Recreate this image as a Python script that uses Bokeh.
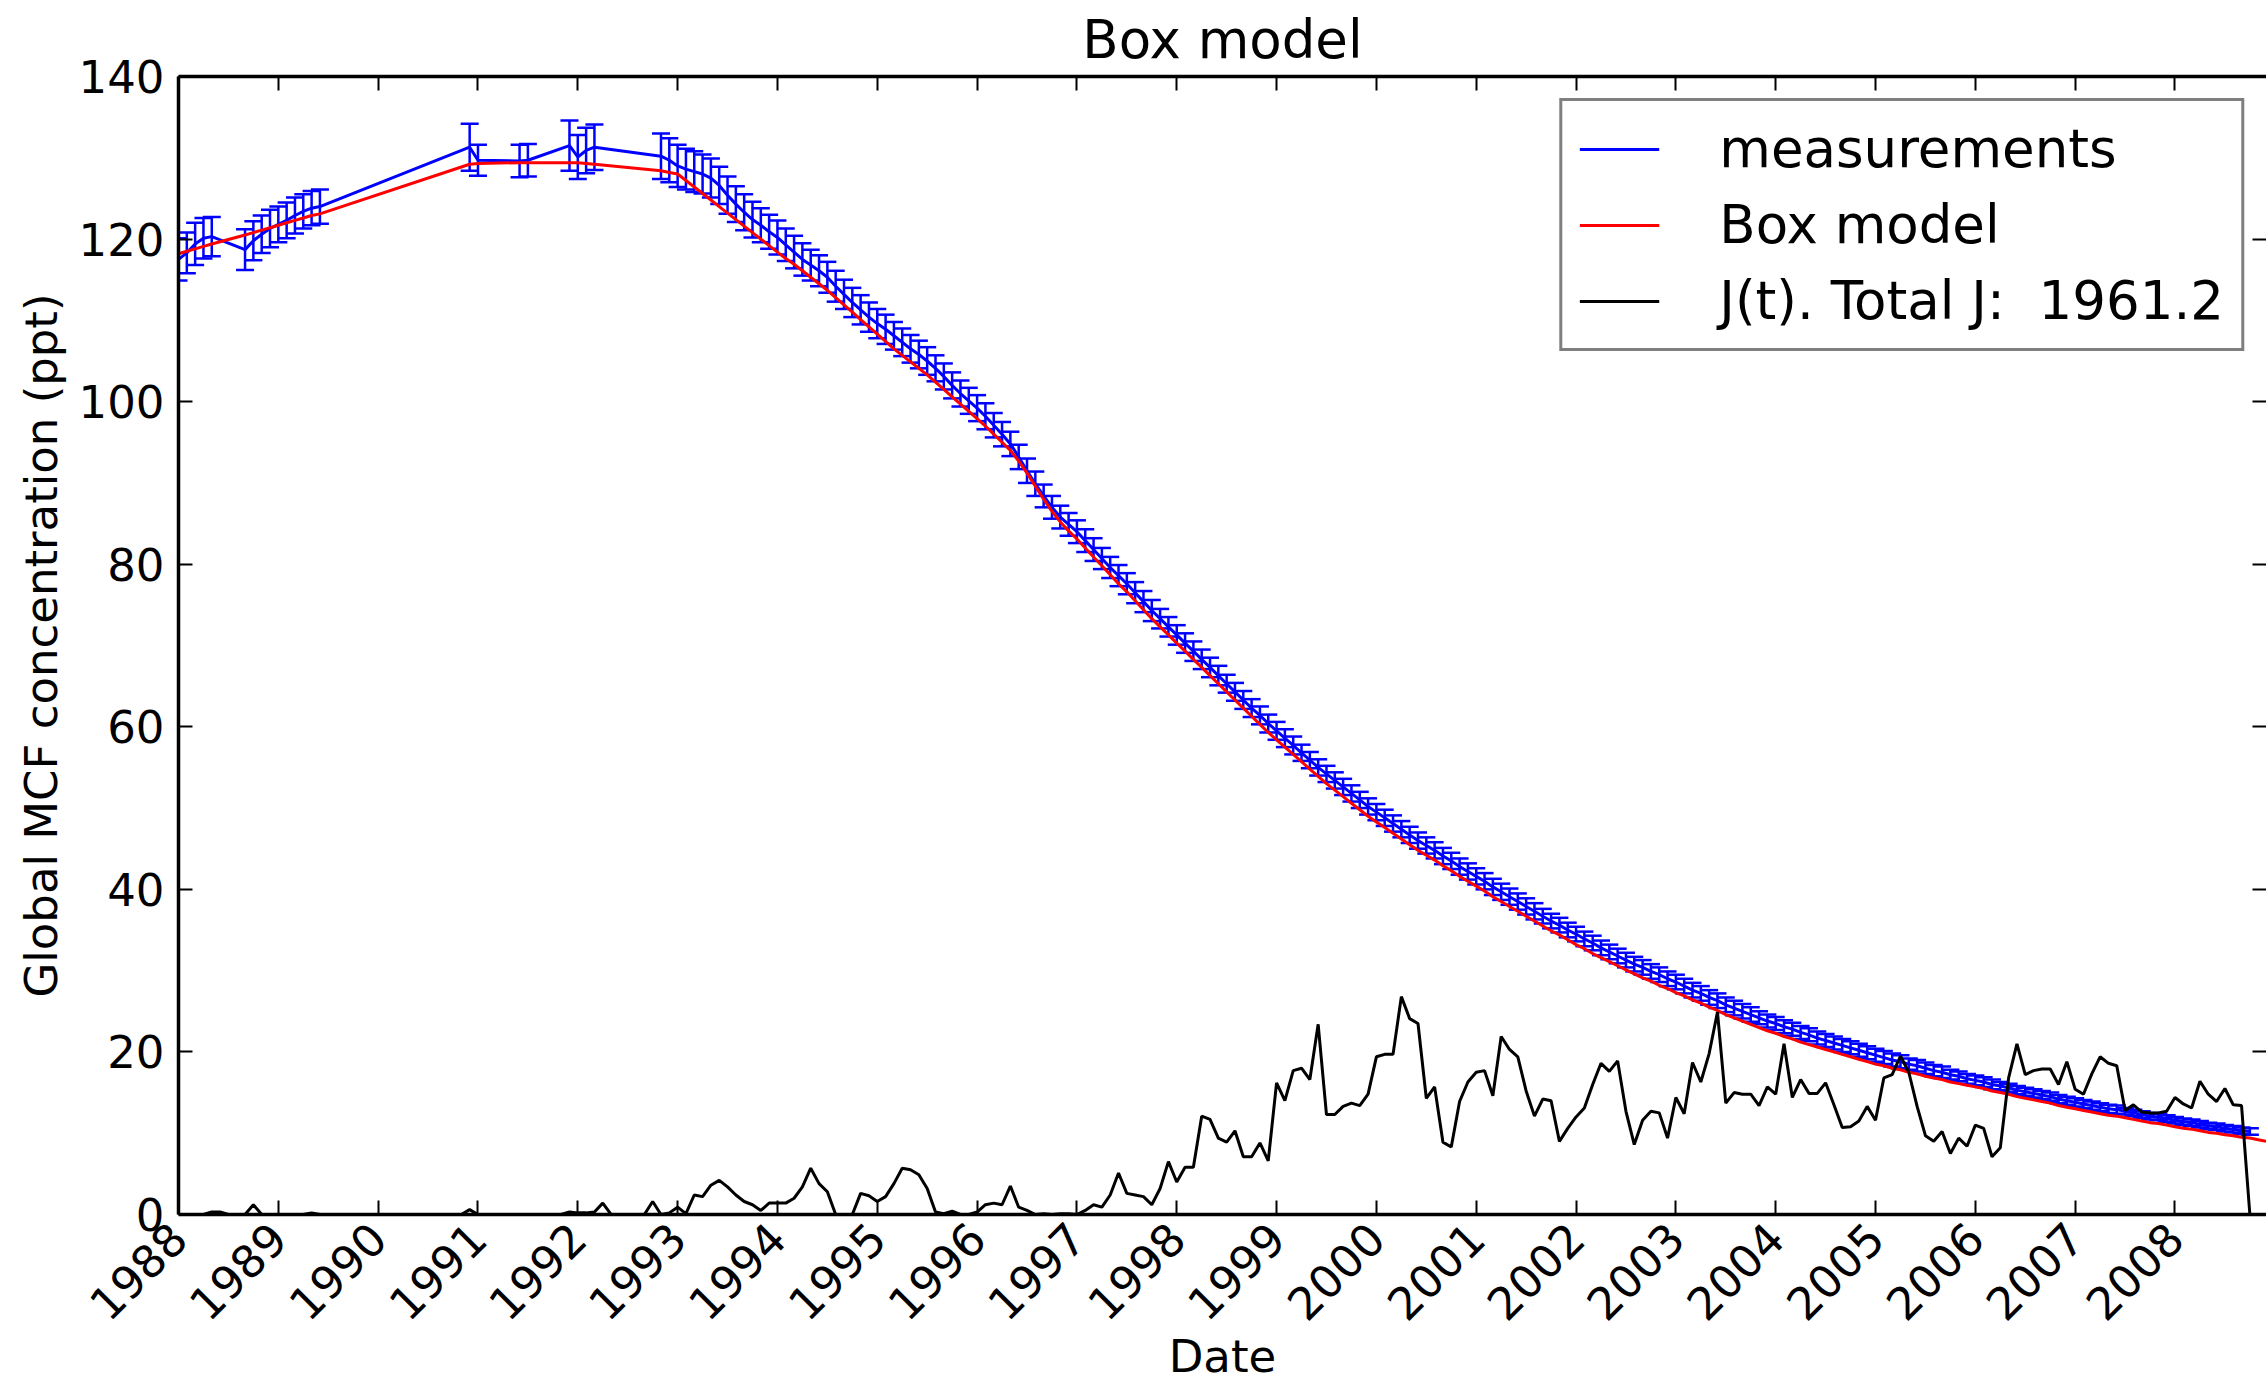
import math
from bokeh.plotting import figure
from bokeh.models import (Range1d, FixedTicker, LinearAxis, ColumnDataSource,
                          Legend, LegendItem)
from bokeh.embed import file_html
from bokeh.resources import INLINE

FONT = "DejaVu Sans"

# ---------------- data ----------------
# month index counted from January 1988
meas_months = [0, 1, 2, 3, 4, 8, 9, 10, 11, 12, 13, 14, 15, 16, 17, 35, 36, 41, 42,
               47, 48, 49, 50] + list(range(58, 250))

meas_values = [
    117.5, 118.3, 119.4, 120.1, 120.3, 118.7, 119.8, 120.6, 121.3, 121.8, 122.3, 122.9,
    123.4, 123.8, 124.0, 131.3, 129.7, 129.6, 129.7, 131.5, 130.1, 130.9, 131.3,
    # 58 ..
    130.2, 129.7, 129.0, 128.6, 128.3, 128.0, 127.5, 126.6, 125.4, 124.3, 123.3, 122.4,
    121.7, 120.9,
    120.2, 119.3, 118.4, 117.5, 116.8, 116.1, 115.3, 114.2, 113.2, 112.2, 111.3, 110.4,
    109.6, 108.9, 108.1, 107.3, 106.5, 105.8, 105.0, 104.1, 103.1, 102.0, 101.0, 100.1,
    99.2, 98.2, 97.1, 96.0, 94.8, 93.2, 91.5, 89.9, 88.4, 87.0, 85.8, 84.9,
    84.0, 82.9, 81.8, 80.7, 79.6, 78.6, 77.6, 76.5, 75.4, 74.3, 73.3, 72.3,
    71.3, 70.3, 69.3, 68.3, 67.3, 66.3, 65.3, 64.3, 63.3, 62.3, 61.4, 60.4,
    59.5, 58.6, 57.7, 56.8, 55.9, 55.0, 54.2, 53.4, 52.6, 51.8, 51.0, 50.2,
    49.5, 48.8, 48.1, 47.4, 46.7, 46.0, 45.4, 44.8, 44.1, 43.5, 42.8, 42.2,
    41.6, 41.0, 40.3, 39.7, 39.1, 38.5, 37.9, 37.3, 36.7, 36.1, 35.6, 35.0,
    34.5, 33.9, 33.4, 32.8, 32.3, 31.8, 31.3, 30.8, 30.4, 29.9, 29.5, 29.0,
    28.6, 28.1, 27.6, 27.2, 26.7, 26.3, 25.8, 25.4, 25.0, 24.6, 24.2, 23.8,
    23.5, 23.1, 22.8, 22.4, 22.1, 21.7, 21.4, 21.1, 20.8, 20.5, 20.2, 19.9,
    19.6, 19.3, 19.0, 18.8, 18.5, 18.3, 18.0, 17.7, 17.5, 17.2, 17.0, 16.7,
    16.5, 16.3, 16.0, 15.8, 15.6, 15.3, 15.1, 14.9, 14.7, 14.5, 14.2, 14.0,
    13.8, 13.6, 13.4, 13.2, 13.0, 12.9, 12.7, 12.5, 12.3, 12.1, 12.0, 11.8,
    11.6, 11.4, 11.3, 11.1, 10.9, 10.8, 10.6, 10.5, 10.3, 10.2,
]

meas_errors = [
    2.6, 2.5, 2.6, 2.5, 2.4, 2.5, 2.4, 2.3, 2.3, 2.2, 2.2, 2.2,
    2.1, 2.1, 2.1, 2.9, 1.9, 2.0, 2.0, 3.1, 2.7, 2.8, 2.8,
    2.8, 2.7, 2.6, 2.5, 2.5, 2.4, 2.4, 2.3, 2.3, 2.2, 2.2, 2.2, 2.1, 2.1,
    2.1, 2.0, 2.0, 2.0, 1.9, 1.9, 1.9, 1.9, 1.8, 1.8, 1.8, 1.8,
    1.8, 1.8, 1.7, 1.7, 1.7, 1.7, 1.7, 1.6, 1.6, 1.6, 1.6, 1.6,
    1.6, 1.6, 1.5, 1.5, 1.5, 1.5, 1.5, 1.5, 1.4, 1.4, 1.4, 1.4,
    1.4, 1.4, 1.4, 1.3, 1.3, 1.3, 1.3, 1.3, 1.3, 1.3, 1.2, 1.2,
    1.2, 1.2, 1.2, 1.2, 1.2, 1.2, 1.1, 1.1, 1.1, 1.1, 1.1, 1.1,
    1.1, 1.1, 1.1, 1.0, 1.0, 1.0, 1.0, 1.0, 1.0, 1.0, 1.0, 1.0,
    1.0, 1.0, 1.0, 1.0, 1.0, 1.0, 1.0, 1.0, 1.0, 1.0, 1.0, 1.0,
    1.0, 1.0, 1.0, 1.0, 1.0, 1.0, 1.0, 1.0, 0.9, 0.9, 0.9, 0.9,
    0.9, 0.9, 0.9, 0.9, 0.9, 0.9, 0.9, 0.9, 0.9, 0.9, 0.9, 0.9,
    0.9, 0.9, 0.9, 0.9, 0.9, 0.9, 0.9, 0.9, 0.9, 0.9, 0.8, 0.8,
    0.8, 0.8, 0.8, 0.8, 0.8, 0.8, 0.8, 0.8, 0.8, 0.8, 0.8, 0.8,
    0.8, 0.8, 0.8, 0.8, 0.7, 0.7, 0.7, 0.7, 0.7, 0.6, 0.6, 0.6,
    0.6, 0.6, 0.6, 0.5, 0.5, 0.5, 0.5, 0.5, 0.5, 0.5, 0.5, 0.5,
    0.5, 0.5, 0.5, 0.5, 0.5, 0.5, 0.4, 0.4, 0.4, 0.4, 0.4, 0.4,
    0.4, 0.4, 0.4, 0.4, 0.4, 0.4, 0.4, 0.4, 0.4, 0.4,
]

model_months = meas_months + [250, 251]
model_values = [
    118.2, 118.5, 118.8, 119.1, 119.4, 120.5, 120.8, 121.1, 121.4, 121.7, 122.0, 122.3,
    122.6, 122.9, 123.1, 129.2, 129.3, 129.4, 129.4, 129.4, 129.4, 129.3, 129.2,
    # 58 ..
    128.4, 128.2, 128.0, 127.2, 126.4, 125.6, 124.8, 124.0, 123.2, 122.4, 121.6, 120.8,
    120.0, 119.2,
    118.4, 117.6, 116.9, 116.1, 115.3, 114.5, 113.7, 112.8, 111.9, 111.0, 110.1, 109.2,
    108.3, 107.4, 106.5, 105.7, 104.9, 104.1, 103.3, 102.4, 101.5, 100.6, 99.7, 98.8,
    97.9, 97.0, 96.0, 95.0, 94.0, 92.7, 91.2, 89.6, 88.0, 86.5, 85.2, 84.1,
    83.1, 82.0, 80.9, 79.8, 78.7, 77.6, 76.6, 75.5, 74.4, 73.3, 72.3, 71.3,
    70.3, 69.3, 68.3, 67.3, 66.3, 65.3, 64.3, 63.3, 62.3, 61.3, 60.3, 59.3,
    58.4, 57.5, 56.6, 55.7, 54.8, 53.9, 53.0, 52.2, 51.4, 50.6, 49.8, 49.0,
    48.3, 47.6, 46.9, 46.2, 45.5, 44.8, 44.2, 43.6, 42.9, 42.3, 41.6, 41.0,
    40.4, 39.8, 39.1, 38.5, 37.9, 37.3, 36.7, 36.1, 35.5, 34.9, 34.4, 33.8,
    33.2, 32.7, 32.1, 31.6, 31.1, 30.6, 30.1, 29.6, 29.1, 28.7, 28.2, 27.8,
    27.3, 26.9, 26.4, 26.0, 25.5, 25.1, 24.6, 24.2, 23.8, 23.4, 23.0, 22.6,
    22.3, 21.9, 21.6, 21.2, 20.9, 20.6, 20.3, 20.0, 19.7, 19.4, 19.1, 18.8,
    18.5, 18.3, 18.0, 17.8, 17.5, 17.3, 17.0, 16.8, 16.6, 16.3, 16.1, 15.9,
    15.7, 15.5, 15.2, 15.0, 14.8, 14.5, 14.3, 14.1, 13.9, 13.7, 13.4, 13.2,
    13.0, 12.8, 12.6, 12.4, 12.2, 12.1, 11.9, 11.7, 11.5, 11.3, 11.2, 11.0,
    10.8, 10.6, 10.5, 10.3, 10.1, 10.0, 9.8, 9.7, 9.5, 9.4,
    9.2, 9.0,
]

# J(t), one value per month from January 1988
j_values = [
    0, 0, 0, 0, 0.3, 0.3, 0, 0, 0, 1.2, 0, 0,
    0, 0, 0, 0, 0.2, 0, 0, 0, 0, 0, 0, 0,
    0, 0, 0, 0, 0, 0, 0, 0, 0, 0, 0, 0.6,
    0, 0, 0, 0, 0, 0, 0, 0, 0, 0, 0, 0.3,
    0.2, 0.2, 0.3, 1.4, 0, 0, 0, 0, 0, 1.6, 0, 0.2,
    0.9, 0.1, 2.4, 2.2, 3.6, 4.2, 3.4, 2.4, 1.6, 1.2, 0.5, 1.4,
    1.4, 1.4, 2.0, 3.4, 5.7, 3.8, 2.8, 0, 0, 0, 2.6, 2.3,
    1.6, 2.2, 3.8, 5.7, 5.5, 4.9, 3.2, 0.3, 0.1, 0.4, 0, 0,
    0.3, 1.2, 1.4, 1.2, 3.5, 0.9, 0.5, 0, 0.1, 0, 0.1, 0.1,
    0, 0.5, 1.2, 0.9, 2.4, 5.1, 2.6, 2.4, 2.2, 1.2, 3.2, 6.5,
    4.0, 5.8, 5.8, 12.1, 11.7, 9.4, 8.9, 10.3, 7.1, 7.1, 8.8, 6.6,
    16.2, 14.0, 17.7, 18.0, 16.6, 23.4, 12.3, 12.3, 13.3, 13.7, 13.4, 14.8,
    19.4, 19.7, 19.7, 26.8, 24.1, 23.5, 14.3, 15.7, 8.9, 8.3, 13.9, 16.3,
    17.5, 17.7, 14.6, 21.9, 20.3, 19.4, 15.2, 12.1, 14.2, 14.0, 9.0, 10.6,
    12.0, 13.1, 16.0, 18.6, 17.6, 18.9, 12.7, 8.6, 11.6, 12.7, 12.5, 9.4,
    14.4, 12.4, 18.7, 16.3, 19.8, 24.9, 13.7, 15.0, 14.8, 14.8, 13.4, 15.7,
    14.8, 21.0, 14.4, 16.6, 14.9, 14.9, 16.2, 13.5, 10.7, 10.8, 11.5, 13.3,
    11.6, 16.8, 17.2, 19.5, 17.5, 13.3, 9.7, 9.0, 10.2, 7.5, 9.4, 8.4,
    11.0, 10.6, 7.1, 8.2, 16.8, 21.0, 17.2, 17.7, 17.9, 17.9, 16.0, 18.8,
    15.4, 14.8, 17.3, 19.4, 18.6, 18.3, 12.8, 13.5, 12.6, 12.5, 12.5, 12.7,
    14.4, 13.6, 13.1, 16.4, 14.8, 13.9, 15.5, 13.5, 13.4, 0, 0, 0,
]

year_ticks = list(range(1988, 2009))
y_ticks = [0, 20, 40, 60, 80, 100, 120, 140]
total_j = "1961.2"

# ---------------- derived columns ----------------
def to_year(m):
    return 1988.0 + m / 12.0

meas_x = [to_year(m) for m in meas_months]
model_x = [to_year(m) for m in model_months]
j_x = [to_year(m) for m in range(len(j_values))]

src_m = ColumnDataSource(dict(
    x=meas_x, y=meas_values,
    lo=[v - e for v, e in zip(meas_values, meas_errors)],
    hi=[v + e for v, e in zip(meas_values, meas_errors)],
))

# ---------------- figure ----------------
W, H = 2266, 1385
x0, x1 = model_x[0], model_x[-1]

p = figure(width=W, height=H, output_backend="svg", toolbar_location=None,
           x_range=Range1d(x0, x1), y_range=Range1d(0, 140),
           min_border_left=178, min_border_right=0, min_border_bottom=170,
           min_border_top=0, title="Box model")
p.background_fill_color = "white"
p.border_fill_color = "white"
p.outline_line_color = None
p.xgrid.visible = False
p.ygrid.visible = False

p.title.text_font = FONT
p.title.text_font_size = "53px"
p.title.text_font_style = "normal"
p.title.align = "center"
p.title.text_color = "black"
p.title.standoff = 13

LW_AX = 3.5
TICK_FS = "45px"

def style_axis(ax, ticks):
    ax.ticker = FixedTicker(ticks=ticks)
    ax.axis_line_width = LW_AX
    ax.axis_line_color = "black"
    ax.major_tick_in = 14
    ax.major_tick_out = 0
    ax.major_tick_line_width = 2
    ax.major_tick_line_color = "black"
    ax.minor_tick_line_color = None
    ax.major_label_text_font = FONT
    ax.major_label_text_font_size = TICK_FS
    ax.major_label_text_color = "black"
    ax.axis_label_text_font = FONT
    ax.axis_label_text_font_size = TICK_FS
    ax.axis_label_text_font_style = "normal"
    ax.axis_label_text_color = "black"

def hide_labels(ax):
    ax.major_label_text_font_size = "1px"
    ax.major_label_text_color = None
    ax.major_label_standoff = 0

xa = p.xaxis[0]
style_axis(xa, year_ticks)
xa.major_label_orientation = math.pi / 4
xa.major_label_standoff = 16
xa.axis_label = "Date"
xa.axis_label_standoff = -8

ya = p.yaxis[0]
style_axis(ya, y_ticks)
ya.major_label_standoff = 14
ya.axis_label = "Global MCF concentration (ppt)"
ya.axis_label_standoff = 8

# tick marks on the top and right edges, no labels
top = LinearAxis()
style_axis(top, year_ticks)
hide_labels(top)
p.add_layout(top, "above")

right = LinearAxis()
style_axis(right, y_ticks)
right.axis_line_color = None
hide_labels(right)
p.add_layout(right, "right")

# ---------------- glyphs ----------------
LW = 3
p.segment(x0="x", y0="lo", x1="x", y1="hi", source=src_m, line_color="blue", line_width=2.5)
p.scatter(x="x", y="hi", source=src_m, marker="dash", size=18, line_color="blue", line_width=2.5)
p.scatter(x="x", y="lo", source=src_m, marker="dash", size=18, line_color="blue", line_width=2.5)
r_meas = p.line(x="x", y="y", source=src_m, line_color="blue", line_width=LW)
r_model = p.line(x=model_x, y=model_values, line_color="red", line_width=LW)
r_j = p.line(x=j_x, y=j_values, line_color="black", line_width=LW)

legend = Legend(items=[
    LegendItem(label="measurements", renderers=[r_meas]),
    LegendItem(label="Box model", renderers=[r_model]),
    LegendItem(label="J(t). Total J:  " + total_j, renderers=[r_j]),
], location="top_right")
legend.label_text_font = FONT
legend.label_text_font_size = "53px"
legend.label_text_color = "black"
legend.border_line_color = "black"
legend.border_line_width = LW_AX
legend.background_fill_color = "white"
legend.background_fill_alpha = 1.0
legend.glyph_width = 80
legend.glyph_height = 50
legend.label_height = 50
legend.label_standoff = 60
legend.spacing = 15
legend.padding = 17
legend.margin = 22
p.add_layout(legend)

open("out.html", "w").write(file_html(p, INLINE))
